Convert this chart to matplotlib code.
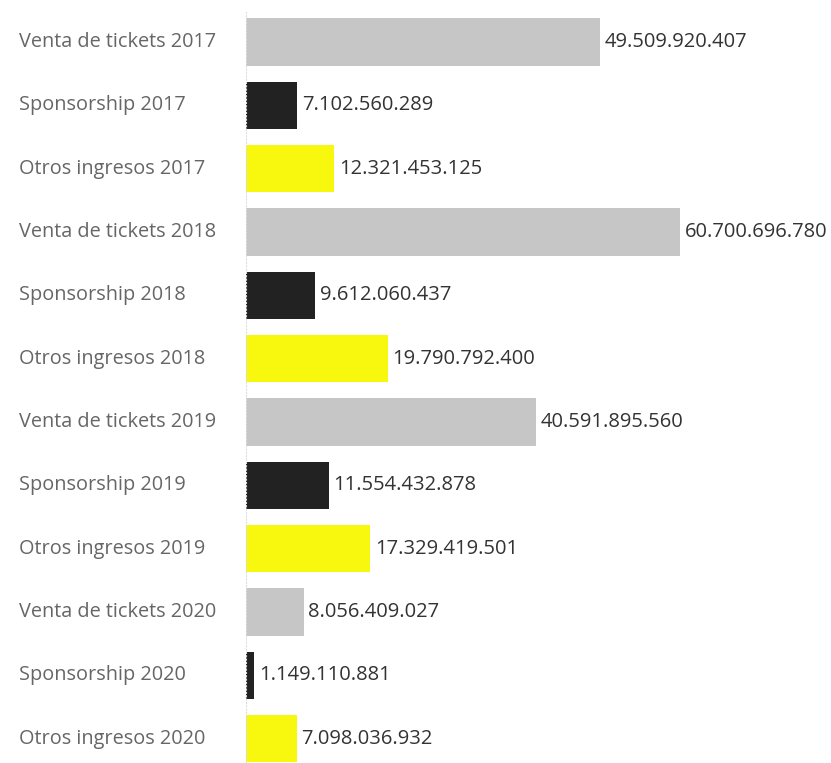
import matplotlib
matplotlib.use("Agg")
import matplotlib.pyplot as plt
import matplotlib.transforms as mtransforms

plt.rcParams['font.family'] = ['Open Sans', 'DejaVu Sans']

# ── Data ────────────────────────────────────────────────────────────────────
categories = [
    'Venta de tickets 2017', 'Sponsorship 2017', 'Otros ingresos 2017',
    'Venta de tickets 2018', 'Sponsorship 2018', 'Otros ingresos 2018',
    'Venta de tickets 2019', 'Sponsorship 2019', 'Otros ingresos 2019',
    'Venta de tickets 2020', 'Sponsorship 2020', 'Otros ingresos 2020',
]
values = [
    49509920407, 7102560289, 12321453125,
    60700696780, 9612060437, 19790792400,
    40591895560, 11554432878, 17329419501,
    8056409027, 1149110881, 7098036932,
]
kind_colors = ['#c6c6c6', '#222222', '#f8f80f']

def fmt(v):
    return f"{v:,}".replace(',', '.')

# ── Figure ──────────────────────────────────────────────────────────────────
W, H, DPI = 831, 763, 100
fig = plt.figure(figsize=(W / DPI, H / DPI), dpi=DPI)
ax = fig.add_axes([246 / W, 0, 1 - 246 / W, 1 - 10 / H])

ypos = list(range(len(categories)))
colors = [kind_colors[i % 3] for i in ypos]
ax.barh(ypos, values, height=0.75, color=colors, zorder=2)

ax.set_ylim(11.385, -0.505)
ax.set_xlim(0, 60700696780 * 585 / 434)

for y, v in zip(ypos, values):
    ax.annotate(fmt(v), (v, y), xytext=(3.5, 0), textcoords='offset points',
                ha='left', va='center', fontsize=14.5, color='#333333')

ax.set_yticks(ypos)
ax.set_yticklabels([])
trans = mtransforms.blended_transform_factory(fig.transFigure, ax.transData)
for y, c in zip(ypos, categories):
    ax.text(19 / W, y, c, transform=trans, ha='left', va='center',
            fontsize=14.3, color='#666666')

ax.tick_params(left=False, bottom=False, labelbottom=False)
for s in ['top', 'right', 'bottom']:
    ax.spines[s].set_visible(False)
ax.spines['left'].set_color('#dddddd')
ax.spines['left'].set_linestyle((0, (1, 2)))
ax.spines['left'].set_linewidth(0.8)

fig.savefig('out.png', dpi=DPI, facecolor='white')
